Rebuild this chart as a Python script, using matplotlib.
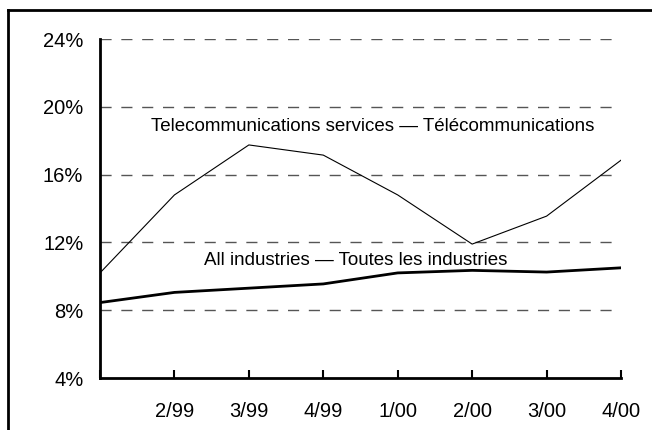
import matplotlib
matplotlib.use("Agg")
import matplotlib.pyplot as plt
from matplotlib.lines import Line2D

quarters = ["1/99", "2/99", "3/99", "4/99", "1/00", "2/00", "3/00", "4/00"]
tick_labels = ["", "2/99", "3/99", "4/99", "1/00", "2/00", "3/00", "4/00"]
telecom = [10.2, 14.8, 17.75, 17.15, 14.8, 11.9, 13.55, 16.85]
all_ind = [8.45, 9.05, 9.3, 9.55, 10.2, 10.35, 10.25, 10.5]
yticks = [4, 8, 12, 16, 20, 24]

plt.rcParams['font.family'] = ['Liberation Sans', 'DejaVu Sans']

W, H = 652, 430
fig = plt.figure(figsize=(W/100, H/100), dpi=100)
ax = fig.add_axes([100/W, 1-378/H, (621-100)/W, (378-39)/H])

x = list(range(len(quarters)))
for yv in yticks[1:]:
    ax.axhline(yv, xmin=0, xmax=(616-100)/(621-100), color='#555555', lw=1.0,
               dashes=(8, 7), zorder=1)
ax.plot(x, telecom, color='black', lw=0.8, zorder=3)
ax.plot(x, all_ind, color='black', lw=2.0, zorder=3)

ax.set_xlim(0, 7)
ax.set_ylim(4, 24)
ax.set_yticks(yticks)
ax.set_yticklabels([f"{v}%" for v in yticks], fontsize=14.5)
ax.set_xticks(x)
ax.set_xticklabels(tick_labels, fontsize=14.5)
ax.tick_params(axis='y', length=0, pad=12)
ax.tick_params(axis='x', direction='in', length=6, width=1.5, pad=17)
for s in ['top', 'right']:
    ax.spines[s].set_visible(False)
for s in ['left', 'bottom']:
    ax.spines[s].set_linewidth(2)

ax.text(3.67, 18.85, "Telecommunications services \u2014 Télécommunications",
        ha='center', va='center', fontsize=13.5)
ax.text(3.43, 10.95, "All industries \u2014 Toutes les industries",
        ha='center', va='center', fontsize=13.5)

fig.add_artist(Line2D([8/W, 1], [1-10/H, 1-10/H], color='black', lw=2,
                      transform=fig.transFigure))
fig.add_artist(Line2D([8/W, 8/W], [0, 1-10/H], color='black', lw=2,
                      transform=fig.transFigure))

fig.savefig("out.png", dpi=100)
